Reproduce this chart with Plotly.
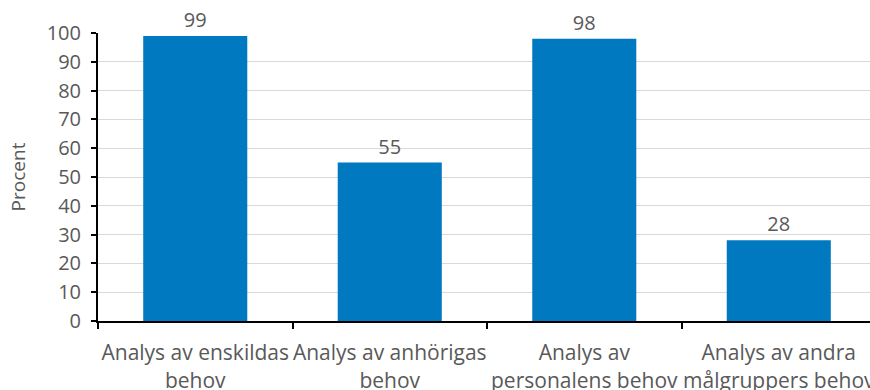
import plotly.graph_objects as go

categories = [
    "Analys av enskildas<br>behov",
    "Analys av anhörigas<br>behov",
    "Analys av<br>personalens behov",
    "Analys av andra<br>målgruppers behov",
]
values = [99, 55, 98, 28]
y_ticks = [0, 10, 20, 30, 40, 50, 60, 70, 80, 90, 100]

text_color = "#595959"
font_family = "Open Sans"

fig = go.Figure(
    go.Bar(
        x=categories,
        y=values,
        text=[str(v) for v in values],
        textposition="outside",
        textfont=dict(family=font_family, size=20, color=text_color),
        marker=dict(color="#0079C1", line=dict(width=0)),
        width=0.535,
        cliponaxis=False,
    )
)

fig.update_layout(
    width=870,
    height=390,
    margin=dict(l=98, r=0, t=33, b=69),
    plot_bgcolor="white",
    paper_bgcolor="white",
    showlegend=False,
    font=dict(family=font_family, size=21, color=text_color),
    bargap=0.465,
)

fig.update_xaxes(
    range=[-0.5, 3.469],
    automargin=False,
    showline=True,
    linecolor="black",
    linewidth=2,
    ticks="outside",
    tickson="boundaries",
    ticklen=6,
    tickwidth=2,
    tickcolor="black",
    showgrid=False,
    tickangle=0,
    ticklabelstandoff=12,
    tickfont=dict(family=font_family, size=21, color=text_color),
)

fig.update_yaxes(
    range=[0, 100],
    automargin=False,
    tickvals=y_ticks,
    showline=True,
    linecolor="black",
    linewidth=2,
    ticks="outside",
    ticklen=5,
    tickwidth=2,
    tickcolor="black",
    showgrid=True,
    gridcolor="#D9D9D9",
    gridwidth=1,
    zeroline=False,
    ticklabelstandoff=6,
    tickfont=dict(family=font_family, size=20, color=text_color),
    title=dict(text="Procent", font=dict(family=font_family, size=19, color=text_color), standoff=16),
)

fig.write_html("out.html")
